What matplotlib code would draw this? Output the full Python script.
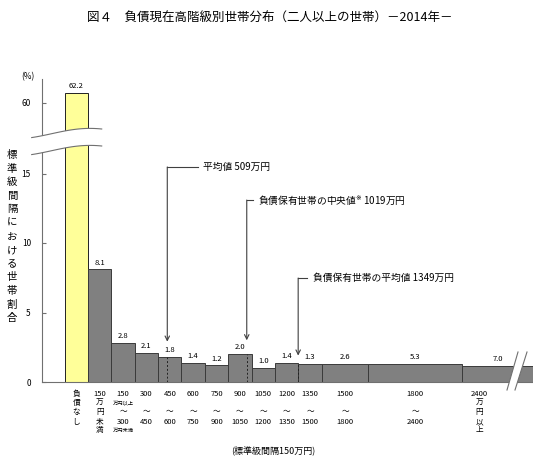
import numpy as np
import matplotlib
matplotlib.use("Agg")
import matplotlib.pyplot as plt
from matplotlib.patches import Polygon
from matplotlib.transforms import blended_transform_factory

plt.rcParams['font.family'] = ['Noto Sans CJK JP', 'DejaVu Sans']

# bins in 万円 (負債なし is drawn as one standard interval left of zero)
bin_left = [-150, 0, 150, 300, 450, 600, 750, 900, 1050, 1200, 1350, 1500, 1800, 2400]
bin_width = [150, 150, 150, 150, 150, 150, 150, 150, 150, 150, 150, 300, 600, 900]
shares = [62.2, 8.1, 2.8, 2.1, 1.8, 1.4, 1.2, 2.0, 1.0, 1.4, 1.3, 2.6, 5.3, 7.0]
std_interval = 150

mean_all = 509
median_holders = 1019
mean_holders = 1349

tick_rows = [
    ["負", "債", "な", "し", ""],
    ["150", "万", "円", "未", "満"],
    ["150", "万円以上", "～", "300", "万円未満"],
    ["300", "", "～", "450", ""],
    ["450", "", "～", "600", ""],
    ["600", "", "～", "750", ""],
    ["750", "", "～", "900", ""],
    ["900", "", "～", "1050", ""],
    ["1050", "", "～", "1200", ""],
    ["1200", "", "～", "1350", ""],
    ["1350", "", "～", "1500", ""],
    ["1500", "", "～", "1800", ""],
    ["1800", "", "～", "2400", ""],
    ["2400", "万", "円", "以", "上"],
]

W, H = 533, 462
fig = plt.figure(figsize=(W / 100, H / 100), dpi=100)

def fx(px):
    return px / W

def fy(py):
    return 1 - py / H

xlim = (-295, 2856)
gray = '#808080'
edge = '#3a3a3a'
line_col = '#707070'

heights = [s / (w / std_interval) for s, w in zip(shares, bin_width)]
heights[0] = shares[0]
colors = ['#ffff99'] + [gray] * (len(shares) - 1)
edges = ['#222222'] + [edge] * (len(shares) - 1)

ax = fig.add_axes([fx(42), fy(382), fx(533 - 42), (382 - 145) / H])
ax_top = fig.add_axes([fx(42), fy(138), fx(533 - 42), (138 - 79) / H])

for a in (ax, ax_top):
    a.bar(bin_left, heights, width=bin_width, align='edge',
          color=colors, edgecolor=edges, linewidth=0.7)
    a.set_xlim(*xlim)
    a.set_facecolor('none')
    for s in ['top', 'right']:
        a.spines[s].set_visible(False)
    a.spines['left'].set_color(line_col)
    a.spines['left'].set_linewidth(0.8)
    a.set_xticks([])
    a.tick_params(axis='y', direction='in', length=3, color=line_col,
                  labelsize=6, pad=8)

ax.set_ylim(0, (382 - 145) / 13.9)
ax.set_yticks([0, 5, 10, 15])
ax.spines['bottom'].set_color(line_col)
ax.spines['bottom'].set_linewidth(0.8)

ax_top.set_ylim(60 - 35 / 4.55, 60 + 24 / 4.55)
ax_top.set_yticks([60])
ax_top.spines['bottom'].set_visible(False)

# value labels
last_center = (bin_left[-1] + xlim[1]) / 2
for i, (l, w, h, s) in enumerate(zip(bin_left, bin_width, heights, shares)):
    cx = l + w / 2 if i < len(shares) - 1 else last_center
    target = ax_top if i == 0 else ax
    target.annotate(f"{s:.1f}", xy=(cx, h), xytext=(0, 2),
                    textcoords='offset points', ha='center', va='bottom',
                    fontsize=5.5)

# dashed marker lines inside bars
for m in (mean_all, median_holders, mean_holders):
    idx = np.searchsorted(bin_left, m) - 1
    ax.plot([m, m], [0, heights[idx]], ls=(0, (2, 2)), color='#222222', lw=0.7)

# annotation arrows
notes = [
    (mean_all, 15.47, 2.9, 706, 738, "平均値 509万円"),
    (median_holders, 13.09, 3.0, 1057, 1091, "負債保有世帯の中央値$^{※}$ 1019万円"),
    (mean_holders, 7.48, 1.9, 1405, 1444, "負債保有世帯の平均値 1349万円"),
]
for xm, ytop, ytip, xline, xtext, label in notes:
    ax.plot([xm, xline], [ytop, ytop], color='#404040', lw=0.8)
    ax.annotate('', xy=(xm, ytip), xytext=(xm, ytop),
                arrowprops=dict(arrowstyle='->', color='#404040', lw=0.8,
                                shrinkA=0, shrinkB=0, mutation_scale=8))
    ax.text(xtext, ytop, label, fontsize=7, ha='left', va='center')

# x tick labels (multi-row)
row_y = [394, 403, 412, 422, 430]
trans = blended_transform_factory(ax.transData, fig.transFigure)
for i, (l, w, rows) in enumerate(zip(bin_left, bin_width, tick_rows)):
    cx = l + w / 2 if i < len(tick_rows) - 1 else l + 0.75 * std_interval
    for r, txt in enumerate(rows):
        if not txt:
            continue
        size = 3.8 if txt.startswith('万円') and len(txt) > 1 else 5.5
        ax.text(cx, fy(row_y[r]), txt, transform=trans, ha='center',
                va='center', fontsize=size)

# overlay for axis breaks
ov = fig.add_axes([0, 0, 1, 1], zorder=10)
ov.set_xlim(0, W)
ov.set_ylim(H, 0)
ov.axis('off')
ov.patch.set_alpha(0)
wx = np.linspace(31.7, 101.7, 60)
wu = 133.7 - 5.3 * np.sin(np.pi * (3 * (wx - 20) - 95) / 230)
wl = wu + 17
ov.add_patch(Polygon(np.column_stack([np.r_[wx, wx[::-1]], np.r_[wu, wl[::-1]]]),
                     closed=True, facecolor='white', edgecolor='none'))
ov.plot(wx, wu, color=line_col, lw=0.8)
ov.plot(wx, wl, color=line_col, lw=0.8)
ov.add_patch(Polygon([[507, 390], [518, 352], [527, 352], [515, 390]],
                     closed=True, facecolor='white', edgecolor='none'))
ov.plot([507, 518], [390, 352], color=line_col, lw=0.8)
ov.plot([515, 527], [390, 352], color=line_col, lw=0.8)

# titles and labels
fig.text(fx(270), fy(18), "図４　負債現在高階級別世帯分布（二人以上の世帯）－2014年－",
         ha='center', va='center', fontsize=9)
fig.text(fx(28), fy(77), "(%)", ha='center', va='center', fontsize=6)
ylabel = "標準級間隔における世帯割合"
for k, ch in enumerate(ylabel):
    fig.text(fx(12), fy(155 + k * 13.6), ch, ha='center', va='center',
             fontsize=7.5)
fig.text(fx(273), fy(450), "(標準級間隔150万円)", ha='center', va='center',
         fontsize=6.5)

fig.savefig("out.png", dpi=100)
